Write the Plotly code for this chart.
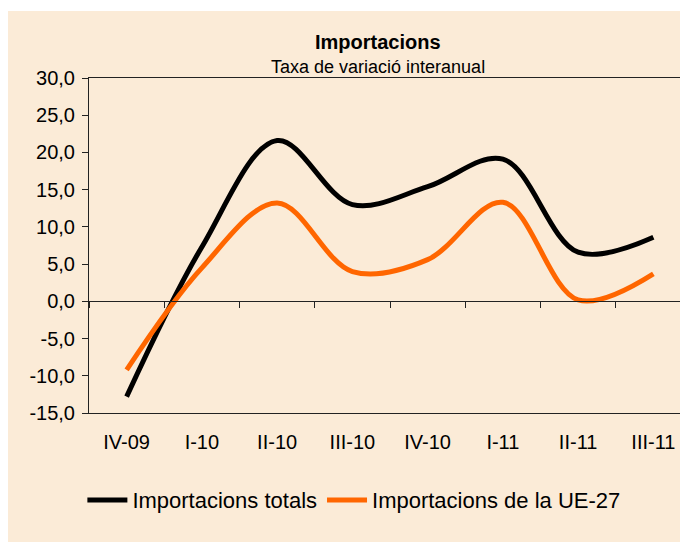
import plotly.graph_objects as go

# Quarters and year-on-year rates (%)
quarters = ['IV-09', 'I-10', 'II-10', 'III-10', 'IV-10', 'I-11', 'II-11', 'III-11']
imports_total = [-12.8, 7.3, 21.6, 13.0, 15.4, 19.1, 6.6, 8.6]
imports_eu27 = [-9.2, 4.5, 13.2, 4.0, 5.6, 13.3, 0.2, 3.7]
y_ticks = [-15, -10, -5, 0, 5, 10, 15, 20, 25, 30]
y_tick_text = ['-15,0', '-10,0', '-5,0', '0,0', '5,0', '10,0', '15,0', '20,0', '25,0', '30,0']

BG = '#FBEBD7'
FONT = 'Liberation Sans, Arial, sans-serif'

fig = go.Figure()

fig.add_trace(go.Scatter(
    x=quarters, y=imports_total,
    mode='lines', name='Importacions totals',
    line=dict(color='#000000', width=5, shape='spline', smoothing=1.0),
))
fig.add_trace(go.Scatter(
    x=quarters, y=imports_eu27,
    mode='lines', name='Importacions de la UE-27',
    line=dict(color='#FF6600', width=5, shape='spline', smoothing=1.0),
    xaxis='x2',
))

# thin white strip above the beige chart area
fig.add_shape(type='rect', xref='paper', yref='paper',
              x0=-0.2, x1=1.1, y0=(542 - 137 - 3) / 335, y1=1.3,
              fillcolor='white', line=dict(width=0), layer='below')

fig.add_annotation(text='<b>Importacions</b>', xref='paper', yref='paper',
                   x=0.48, y=1.107, showarrow=False, xanchor='center', yanchor='middle',
                   font=dict(family=FONT, size=20, color='#000000'))
fig.add_annotation(text='Taxa de variació interanual', xref='paper', yref='paper',
                   x=0.48, y=1.033, showarrow=False, xanchor='center', yanchor='middle',
                   font=dict(family=FONT, size=18, color='#000000'))

fig.update_layout(
    width=688, height=542,
    margin=dict(l=81, r=5, t=70, b=137),
    paper_bgcolor=BG,
    plot_bgcolor='rgba(0,0,0,0)',
    font=dict(family=FONT, size=20, color='#000000'),
    showlegend=True,
    legend=dict(orientation='h', x=-0.011, y=-0.26, xanchor='left', yanchor='middle',
                bgcolor='rgba(0,0,0,0)', font=dict(size=22), itemwidth=40,
                traceorder='normal'),
    xaxis=dict(
        type='category', categoryorder='array', categoryarray=quarters,
        range=[-0.5, 7.5],
        showline=True, linecolor='#222222', linewidth=1, mirror=True,
        ticks='', showgrid=False, zeroline=False,
        tickfont=dict(size=20), ticklabelstandoff=11,
    ),
    xaxis2=dict(
        type='category', categoryorder='array', categoryarray=quarters,
        range=[-0.5, 7.5], overlaying='x', anchor='free', position=1/3,
        showline=True, linecolor='#222222', linewidth=1,
        ticks='outside', ticklen=6, tickcolor='#222222', tickson='boundaries',
        showticklabels=False, showgrid=False, zeroline=False,
    ),
    yaxis=dict(
        range=[-15, 30], tickvals=y_ticks, ticktext=y_tick_text,
        showline=True, linecolor='#222222', linewidth=1,
        ticks='outside', ticklen=6, tickcolor='#222222',
        showgrid=False, zeroline=False, tickfont=dict(size=20),
        ticklabelstandoff=3,
    ),
)

fig.write_html('out.html')
